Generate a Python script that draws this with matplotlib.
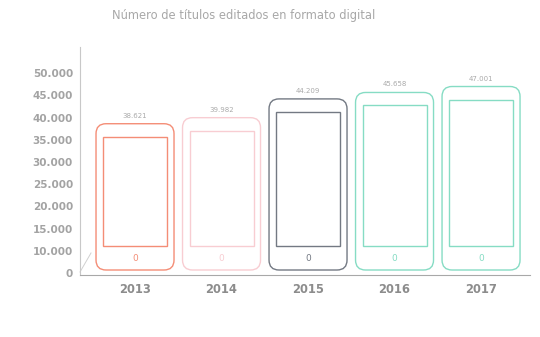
import matplotlib
matplotlib.use("Agg")
import matplotlib.pyplot as plt
import numpy as np
from matplotlib.patches import FancyBboxPatch, Rectangle
from matplotlib.transforms import IdentityTransform

# Data
years = ["2013", "2014", "2015", "2016", "2017"]
titles = [38621, 39982, 44209, 45658, 47001]
value_labels = ["38.621", "39.982", "44.209", "45.658", "47.001"]
tick_values = [0, 10000, 15000, 20000, 25000, 30000, 35000, 40000, 45000, 50000]
tick_labels = ["0", "10.000", "15.000", "20.000", "25.000", "30.000",
               "35.000", "40.000", "45.000", "50.000"]
colors = ["#f48d76", "#f8cdd2", "#737983", "#86dcc4", "#86dcc4"]


# broken axis: 0..10.000 takes one step, then one step per 5.000
def fwd(y):
    y = np.asarray(y, dtype=float)
    return np.where(y <= 10000, y / 10000, 1 + (y - 10000) / 5000)


def inv(s):
    s = np.asarray(s, dtype=float)
    return np.where(s <= 1, s * 10000, 10000 + (s - 1) * 5000)


W, H = 540, 337
fig = plt.figure(figsize=(W / 100, H / 100), dpi=100)

# axes placed in pixel terms: x 80..530, y 47..275 (from top)
ax = fig.add_axes([80 / W, (H - 275) / H, 450 / W, 228 / H])
ax.set_yscale("function", functions=(fwd, inv))
ax.set_xlim(-0.636, 4.566)
ax.set_ylim(-900, 10000 + 9.18 * 5000)

ax.set_yticks(tick_values)
ax.set_yticklabels(tick_labels)
ax.set_xticks(range(len(years)))
ax.set_xticklabels(years)

pix = IdentityTransform()
half_w = 39
for i, (v, c) in enumerate(zip(titles, colors)):
    xc, ytop = ax.transData.transform((i, v))
    _, ybot = ax.transData.transform((i, 0))
    ybot += 3
    body = FancyBboxPatch((xc - half_w, ybot), 2 * half_w, ytop - ybot,
                          boxstyle="round,pad=0,rounding_size=10",
                          transform=pix, fill=False, clip_on=False,
                          edgecolor=c, linewidth=1.0)
    ax.add_patch(body)
    # screen
    ax.add_patch(Rectangle((xc - half_w + 7, ybot + 24), 2 * half_w - 14,
                           ytop - ybot - 37, transform=pix, fill=False,
                           clip_on=False, edgecolor=c, linewidth=1.0))
    # home button
    ax.text(xc, ybot + 12, "0", color=c, fontsize=6.5, transform=pix,
            ha="center", va="center")
    # value label
    ax.text(xc, ytop + 8, value_labels[i], color="#aaaaaa", transform=pix,
            fontsize=5, ha="center", va="center")

ax.tick_params(axis="y", length=0, pad=5, labelsize=7.5, labelcolor="#a3a3a3")
ax.tick_params(axis="x", length=0, pad=6, labelsize=8.3, labelcolor="#8c8c8c")
for lbl in ax.get_yticklabels() + ax.get_xticklabels():
    lbl.set_fontweight("bold")

for s in ["top", "right"]:
    ax.spines[s].set_visible(False)
ax.spines["left"].set_color("#c8c8c8")
ax.spines["bottom"].set_color("#a8a8a8")
ax.spines["left"].set_linewidth(0.8)
ax.spines["bottom"].set_linewidth(0.8)

# small perspective stroke at the corner
x0, y0 = ax.transAxes.transform((0, 0))
ax.plot([x0, x0 + 11], [y0 + 3, y0 + 22], color="#d0d0d0", linewidth=0.7,
        transform=pix, clip_on=False)

fig.text(244 / W, 1 - 16 / H, "Número de títulos editados en formato digital",
         color="#a8a8a8", fontsize=8.3, ha="center", va="center")

fig.savefig("out.png", dpi=100)
